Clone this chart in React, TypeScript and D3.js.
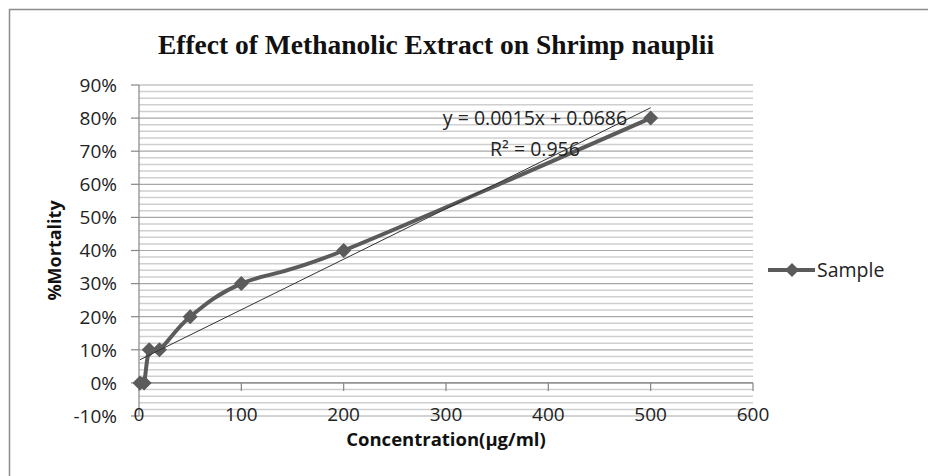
import * as d3 from 'd3';

// concentration (µg/ml) and mortality fraction
const concentrations = [1, 5, 10, 20, 50, 100, 200, 500];
const mortality = [0, 0, 0.1, 0.1, 0.2, 0.3, 0.4, 0.8];
const xTicks = [0, 100, 200, 300, 400, 500, 600];
const yTicks = [-0.1, 0, 0.1, 0.2, 0.3, 0.4, 0.5, 0.6, 0.7, 0.8, 0.9];
const equationLines = ['y = 0.0015x + 0.0686', 'R² = 0.956'];
const seriesName = 'Sample';

const W = 928;
const H = 476;
const font = '"Open Sans", "Noto Sans", sans-serif';
const seriesColor = '#5b5b5b';
const pct = (v: number) => `${Math.round(v * 100)}%`;

const diamond = (cx: number, cy: number, r: number) =>
  `M${cx},${cy - r}L${cx + r},${cy}L${cx},${cy + r}L${cx - r},${cy}Z`;

const App = () => {
  const x = d3.scaleLinear().domain([0, 600]).range([139, 753]);
  const y = d3.scaleLinear().domain([-0.1, 0.9]).range([416, 85]);

  const pts = concentrations.map((c, i) => ({ c, m: mortality[i] }));

  // minor gridlines every 2%
  const minor = d3.range(-10, 91, 2).filter(v => v % 10 !== 0).map(v => v / 100);

  const line = d3.line<{ c: number; m: number }>()
    .x(d => x(d.c))
    .y(d => y(d.m))
    .curve(d3.curveCardinal.tension(0));

  // linear least-squares trendline
  const mx = d3.mean(concentrations)!;
  const my = d3.mean(mortality)!;
  const sxy = d3.sum(pts, d => (d.c - mx) * (d.m - my));
  const sxx = d3.sum(pts, d => (d.c - mx) ** 2);
  const slope = sxy / sxx;
  const icpt = my - slope * mx;
  const x0 = d3.min(concentrations)!;
  const x1 = d3.max(concentrations)!;

  return (
    <svg width={W} height={H} style={{ position: 'absolute', left: 0, top: 0, background: '#fff' }}>
      <rect x={9.5} y={9.5} width={W + 20} height={H + 20} fill="#fff" stroke="#8c8c8c" strokeWidth={1.5} />

      <text x={436} y={54} textAnchor="middle" fontFamily='"Liberation Serif", "Times New Roman", serif'
        fontWeight="bold" fontSize={27.5} fill="#111">
        Effect of Methanolic Extract on Shrimp nauplii
      </text>

      {/* gridlines */}
      {minor.map(v => (
        <line key={'mi' + v} x1={139} x2={753} y1={y(v)} y2={y(v)} stroke="#cfcfcf" strokeWidth={1.5} />
      ))}
      {yTicks.map(v => (
        <line key={'ma' + v} x1={139} x2={753} y1={y(v)} y2={y(v)} stroke="#a8a8a8" strokeWidth={1.2} />
      ))}

      {/* y axis */}
      <line x1={139} x2={139} y1={85} y2={416} stroke="#868686" strokeWidth={1.2} />
      {yTicks.map(v => (
        <g key={'yt' + v}>
          <line x1={131} x2={139} y1={y(v)} y2={y(v)} stroke="#868686" strokeWidth={1.2} />
          <text x={117} y={y(v)} dy="0.36em" textAnchor="end" fontFamily={font} fontSize={19} fill="#222">
            {pct(v)}
          </text>
        </g>
      ))}

      {/* x axis at 0% */}
      <line x1={139} x2={753} y1={y(0)} y2={y(0)} stroke="#868686" strokeWidth={1.2} />
      {xTicks.map(v => (
        <g key={'xt' + v}>
          <line x1={x(v)} x2={x(v)} y1={y(0)} y2={y(0) + 8} stroke="#868686" strokeWidth={1.2} />
          <text x={x(v)} y={421} textAnchor="middle" fontFamily={font} fontSize={19} fill="#222">
            {v}
          </text>
        </g>
      ))}

      <text transform={`translate(61,${(85 + 416) / 2}) rotate(-90)`} textAnchor="middle"
        fontFamily={font} fontWeight="bold" fontSize={18} fill="#111">
        %Mortality
      </text>
      <text x={446} y={446} textAnchor="middle" fontFamily={font} fontWeight="bold" fontSize={18.5} fill="#111">
        Concentration(µg/ml)
      </text>

      {/* series */}
      <path d={line(pts) || ''} fill="none" stroke={seriesColor} strokeWidth={4} strokeLinejoin="round" />
      {pts.map((d, i) => (
        <path key={'pt' + i} d={diamond(x(d.c), y(d.m), 7.5)} fill={seriesColor} />
      ))}

      {/* trendline */}
      <line x1={x(x0)} y1={y(slope * x0 + icpt)} x2={x(x1)} y2={y(slope * x1 + icpt)} stroke="#333" strokeWidth={1} />
      {equationLines.map((t, i) => (
        <text key={t} x={535} y={125 + i * 31} textAnchor="middle" fontFamily={font} fontSize={19.5} fill="#222">
          {t}
        </text>
      ))}

      {/* legend */}
      <line x1={768} x2={815} y1={270} y2={270} stroke={seriesColor} strokeWidth={4} />
      <path d={diamond(792, 270, 7)} fill={seriesColor} />
      <text x={817} y={270} dy="0.36em" fontFamily={font} fontSize={19.5} fill="#222">{seriesName}</text>
    </svg>
  );
};

export default App;
